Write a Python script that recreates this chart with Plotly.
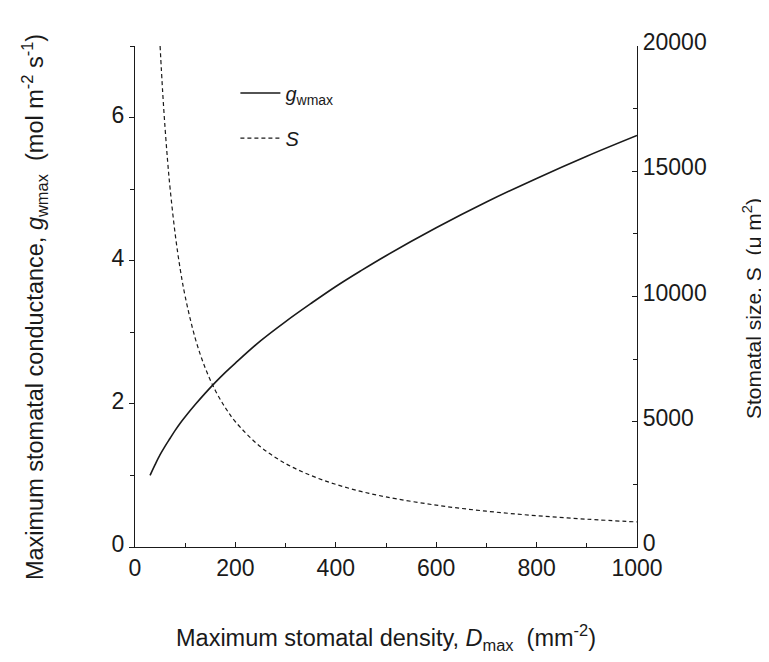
import plotly.graph_objects as go

# Maximum stomatal density D (mm^-2) sample points
density_g = [30, 40, 50, 60, 70, 80, 90, 100, 120, 140, 160, 180, 200, 250, 300,
             350, 400, 450, 500, 600, 700, 800, 900, 1000]
# Maximum stomatal conductance g_wmax (mol m-2 s-1)
g_wmax = [1.00, 1.15, 1.29, 1.41, 1.52, 1.63, 1.73, 1.82, 1.99, 2.15, 2.30, 2.44,
          2.57, 2.88, 3.15, 3.40, 3.64, 3.86, 4.07, 4.46, 4.82, 5.15, 5.46, 5.75]

density_s = [50, 55, 60, 65, 70, 80, 90, 100, 120, 140, 160, 180, 200, 250, 300,
             350, 400, 450, 500, 600, 700, 800, 900, 1000]
# Stomatal size S (um^2)
size_s = [20000, 18200, 16700, 15400, 14300, 12500, 11100, 10000, 8330, 7140, 6250,
          5560, 5000, 4000, 3330, 2860, 2500, 2220, 2000, 1670, 1430, 1250, 1110, 1000]

x_ticks = [0, 200, 400, 600, 800, 1000]
y_ticks = [0, 2, 4, 6]
y2_ticks = [0, 5000, 10000, 15000, 20000]

FONT = "Liberation Sans, Arial, sans-serif"
INK = "#1a1a1a"

fig = go.Figure()
fig.add_trace(go.Scatter(
    x=density_g, y=g_wmax, mode="lines", name="<i>g</i><sub>wmax</sub>",
    line=dict(color=INK, width=1.6, shape="spline"), yaxis="y",
    legendgroup="a"))
fig.add_trace(go.Scatter(
    x=density_s, y=size_s, mode="lines", name="<i>S</i>",
    line=dict(color=INK, width=1.2, dash="4px,3px", shape="spline"), yaxis="y2",
    legendgroup="b"))

axis_common = dict(showgrid=False, zeroline=False, showline=True, linecolor=INK,
                   linewidth=1.3, tickcolor=INK, tickwidth=1.2,
                   tickfont=dict(family=FONT, size=23, color=INK))

fig.update_layout(
    width=769, height=662,
    margin=dict(l=127, r=140, t=38, b=123),
    paper_bgcolor="white", plot_bgcolor="white",
    font=dict(family=FONT, color=INK),
    xaxis=dict(range=[0, 1000], tickvals=x_ticks, ticks="inside", ticklen=5,
               minor=dict(ticks="inside", dtick=100, ticklen=4, tickcolor=INK),
               **axis_common),
    yaxis=dict(range=[0, 7], tickvals=y_ticks, ticks="outside", ticklen=5,
               ticklabelshift=-3,
               minor=dict(ticks="outside", dtick=1, ticklen=4, tickcolor=INK),
               **axis_common),
    yaxis2=dict(range=[0, 20000], tickvals=y2_ticks, tickformat="d",
                overlaying="y", side="right", anchor="x",
                ticks="inside", ticklen=5, ticklabelshift=-4,
                minor=dict(ticks="inside", dtick=2500, ticklen=4, tickcolor=INK),
                **axis_common),
    showlegend=True,
    legend=dict(x=0.2, y=0.945, xanchor="left", yanchor="top",
                bgcolor="rgba(0,0,0,0)", font=dict(family=FONT, size=20, color=INK),
                traceorder="grouped", tracegroupgap=16, itemwidth=40),
    annotations=[
        dict(text="Maximum stomatal density, <i>D</i><sub>max</sub>  (mm<sup>-2</sup>)",
             xref="paper", yref="paper", x=0.5, y=-0.18, xanchor="center",
             yanchor="middle", showarrow=False,
             font=dict(family=FONT, size=23.5, color=INK)),
        dict(text="Maximum stomatal conductance, <i>g</i><sub>wmax</sub>  (mol m<sup>-2</sup> s<sup>-1</sup>)",
             xref="paper", yref="paper", x=-0.2, y=0.478, xanchor="center",
             yanchor="middle", textangle=-90, showarrow=False,
             font=dict(family=FONT, size=23.5, color=INK)),
        dict(text="Stomatal size, S  (μ m<sup>2</sup>)",
             xref="paper", yref="paper", x=1.228, y=0.476, xanchor="center",
             yanchor="middle", textangle=-90, showarrow=False,
             font=dict(family=FONT, size=21, color=INK)),
    ],
)

fig.write_html("out.html")
